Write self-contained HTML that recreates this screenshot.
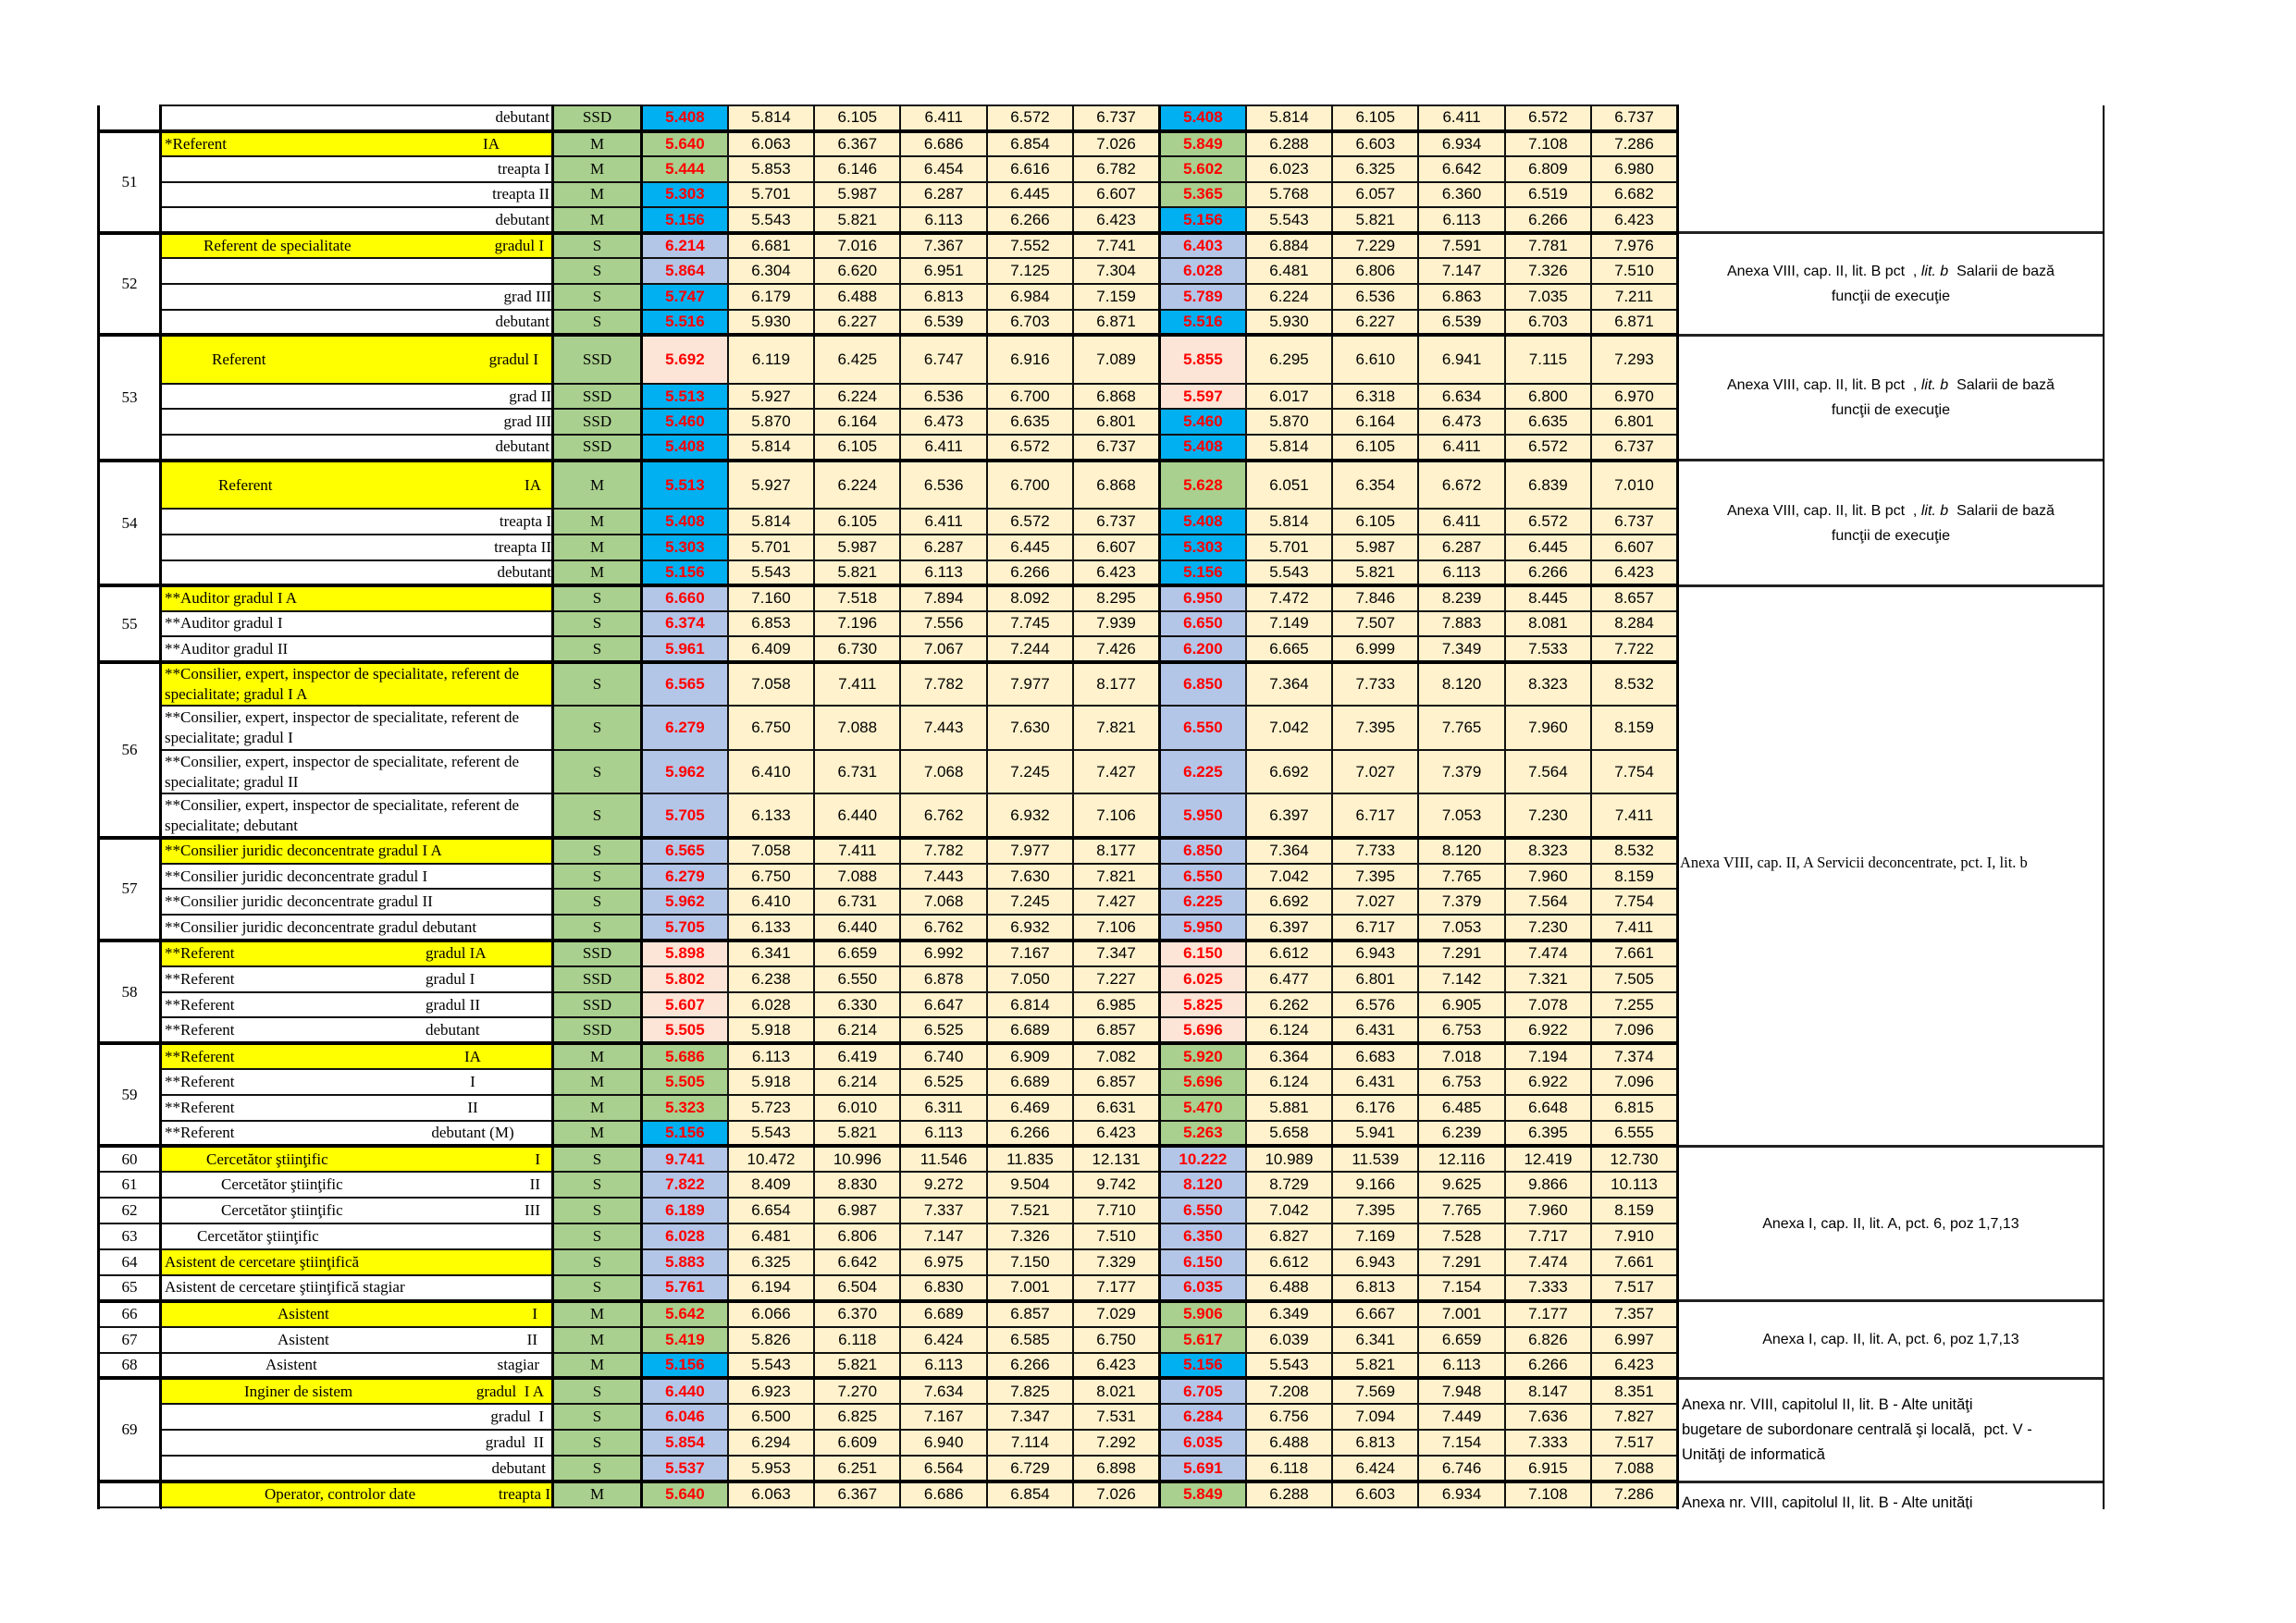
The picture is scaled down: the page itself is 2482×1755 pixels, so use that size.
<!DOCTYPE html>
<html><head><meta charset="utf-8"><style>
html,body{margin:0;padding:0;background:#fff;width:2482px;height:1755px;overflow:hidden}
#w{position:absolute;left:105px;top:113px;width:2170px;height:1519px;overflow:hidden}
table{border-collapse:collapse;table-layout:fixed;width:2170px}
td{border:2px solid #111;padding:0;font:17px "Liberation Sans",sans-serif;text-align:center;background:#fff2cc;overflow:hidden;white-space:nowrap;color:#000}
td.k{background:#fff;font-family:"Liberation Serif",serif;border-left:3px solid #000}
td.n{background:#fff;font-family:"Liberation Serif",serif;text-align:left;border-left:3px solid #000}
td.n.y{background:#ffff00}
td.g{background:#a9d08e;font-family:"Liberation Serif",serif;border-left:3px solid #000}
td.c,td.cy,td.lv,td.gr,td.pk{color:#f00;font-weight:bold}
td.cy{background:#00b0f0}td.lv{background:#b4c6e7}td.gr{background:#a9d08e}td.pk{background:#fce4d6}
td.b{border-left:3px solid #000}
td.a{background:#fff;border-left:3px solid #000;border-right:3px solid #000;border-top:2px solid #555;border-bottom:2px solid #555;white-space:nowrap;line-height:27px;font-size:16px}
tr.t>td{border-top:4px solid #000}
tr.t>td.a{border-top:3px solid #222}
tr{height:27.7px}
tr.t{height:27.2px}
tr.h{height:52.5px}
tr.m{height:47.5px}
tr.q{height:27.8px}
tr.r{height:27.9px}
.f{display:flex;justify-content:space-between;align-items:center;padding:0 6px 0 3px}
.w{white-space:normal;line-height:22px;padding-left:3px}
</style></head><body><div id="w"><table>
<colgroup><col style="width:67px"><col style="width:424px"><col style="width:96px"><col span="12" style="width:93.33px"><col style="width:461px"></colgroup>
<tr><td class="k" style="border-top:none"></td><td class="n"><div class="f" style="justify-content:flex-end;padding-right:2px"><span>debutant</span></div></td><td class="g">SSD</td><td class="cy b">5.408</td><td>5.814</td><td>6.105</td><td>6.411</td><td>6.572</td><td>6.737</td><td class="cy b">5.408</td><td>5.814</td><td>6.105</td><td>6.411</td><td>6.572</td><td>6.737</td><td class="a" rowspan="5" style="border-top:none"></td></tr>

<tr class="t"><td class="k" rowspan="4">51</td><td class="n y"><div class="f" style="padding-right:56px"><span>*Referent</span><span>IA</span></div></td><td class="g">M</td><td class="gr b">5.640</td><td>6.063</td><td>6.367</td><td>6.686</td><td>6.854</td><td>7.026</td><td class="gr b">5.849</td><td>6.288</td><td>6.603</td><td>6.934</td><td>7.108</td><td>7.286</td></tr>
<tr><td class="n"><div class="f" style="justify-content:flex-end;padding-right:2px"><span>treapta I</span></div></td><td class="g">M</td><td class="gr b">5.444</td><td>5.853</td><td>6.146</td><td>6.454</td><td>6.616</td><td>6.782</td><td class="gr b">5.602</td><td>6.023</td><td>6.325</td><td>6.642</td><td>6.809</td><td>6.980</td></tr>
<tr><td class="n"><div class="f" style="justify-content:flex-end;padding-right:2px"><span>treapta II</span></div></td><td class="g">M</td><td class="cy b">5.303</td><td>5.701</td><td>5.987</td><td>6.287</td><td>6.445</td><td>6.607</td><td class="gr b">5.365</td><td>5.768</td><td>6.057</td><td>6.360</td><td>6.519</td><td>6.682</td></tr>
<tr><td class="n"><div class="f" style="justify-content:flex-end;padding-right:2px"><span>debutant</span></div></td><td class="g">M</td><td class="cy b">5.156</td><td>5.543</td><td>5.821</td><td>6.113</td><td>6.266</td><td>6.423</td><td class="cy b">5.156</td><td>5.543</td><td>5.821</td><td>6.113</td><td>6.266</td><td>6.423</td></tr>

<tr class="t"><td class="k" rowspan="4">52</td><td class="n y"><div class="f" style="padding-left:45px;padding-right:8px"><span>Referent de specialitate</span><span>gradul I</span></div></td><td class="g">S</td><td class="lv b">6.214</td><td>6.681</td><td>7.016</td><td>7.367</td><td>7.552</td><td>7.741</td><td class="lv b">6.403</td><td>6.884</td><td>7.229</td><td>7.591</td><td>7.781</td><td>7.976</td><td class="a" rowspan="4">Anexa VIII, cap. II, lit. B pct&nbsp; , <i>lit. b</i>&nbsp; Salarii de bază<br>funcţii de execuţie</td></tr>
<tr><td class="n"></td><td class="g">S</td><td class="lv b">5.864</td><td>6.304</td><td>6.620</td><td>6.951</td><td>7.125</td><td>7.304</td><td class="lv b">6.028</td><td>6.481</td><td>6.806</td><td>7.147</td><td>7.326</td><td>7.510</td></tr>
<tr><td class="n"><div class="f" style="justify-content:flex-end;padding-right:0"><span>grad III</span></div></td><td class="g">S</td><td class="cy b">5.747</td><td>6.179</td><td>6.488</td><td>6.813</td><td>6.984</td><td>7.159</td><td class="lv b">5.789</td><td>6.224</td><td>6.536</td><td>6.863</td><td>7.035</td><td>7.211</td></tr>
<tr><td class="n"><div class="f" style="justify-content:flex-end;padding-right:2px"><span>debutant</span></div></td><td class="g">S</td><td class="cy b">5.516</td><td>5.930</td><td>6.227</td><td>6.539</td><td>6.703</td><td>6.871</td><td class="cy b">5.516</td><td>5.930</td><td>6.227</td><td>6.539</td><td>6.703</td><td>6.871</td></tr>

<tr class="t h"><td class="k" rowspan="4">53</td><td class="n y"><div class="f" style="padding-left:54px;padding-right:14px"><span>Referent</span><span>gradul I</span></div></td><td class="g">SSD</td><td class="pk b">5.692</td><td>6.119</td><td>6.425</td><td>6.747</td><td>6.916</td><td>7.089</td><td class="pk b">5.855</td><td>6.295</td><td>6.610</td><td>6.941</td><td>7.115</td><td>7.293</td><td class="a" rowspan="4">Anexa VIII, cap. II, lit. B pct&nbsp; , <i>lit. b</i>&nbsp; Salarii de bază<br>funcţii de execuţie</td></tr>
<tr><td class="n"><div class="f" style="justify-content:flex-end;padding-right:0"><span>grad II</span></div></td><td class="g">SSD</td><td class="cy b">5.513</td><td>5.927</td><td>6.224</td><td>6.536</td><td>6.700</td><td>6.868</td><td class="pk b">5.597</td><td>6.017</td><td>6.318</td><td>6.634</td><td>6.800</td><td>6.970</td></tr>
<tr><td class="n"><div class="f" style="justify-content:flex-end;padding-right:0"><span>grad III</span></div></td><td class="g">SSD</td><td class="cy b">5.460</td><td>5.870</td><td>6.164</td><td>6.473</td><td>6.635</td><td>6.801</td><td class="cy b">5.460</td><td>5.870</td><td>6.164</td><td>6.473</td><td>6.635</td><td>6.801</td></tr>
<tr><td class="n"><div class="f" style="justify-content:flex-end;padding-right:2px"><span>debutant</span></div></td><td class="g">SSD</td><td class="cy b">5.408</td><td>5.814</td><td>6.105</td><td>6.411</td><td>6.572</td><td>6.737</td><td class="cy b">5.408</td><td>5.814</td><td>6.105</td><td>6.411</td><td>6.572</td><td>6.737</td></tr>

<tr class="t h"><td class="k" rowspan="4">54</td><td class="n y"><div class="f" style="padding-left:61px;padding-right:11px"><span>Referent</span><span>IA</span></div></td><td class="g">M</td><td class="cy b">5.513</td><td>5.927</td><td>6.224</td><td>6.536</td><td>6.700</td><td>6.868</td><td class="gr b">5.628</td><td>6.051</td><td>6.354</td><td>6.672</td><td>6.839</td><td>7.010</td><td class="a" rowspan="4">Anexa VIII, cap. II, lit. B pct&nbsp; , <i>lit. b</i>&nbsp; Salarii de bază<br>funcţii de execuţie</td></tr>
<tr><td class="n"><div class="f" style="justify-content:flex-end;padding-right:0"><span>treapta I</span></div></td><td class="g">M</td><td class="cy b">5.408</td><td>5.814</td><td>6.105</td><td>6.411</td><td>6.572</td><td>6.737</td><td class="cy b">5.408</td><td>5.814</td><td>6.105</td><td>6.411</td><td>6.572</td><td>6.737</td></tr>
<tr><td class="n"><div class="f" style="justify-content:flex-end;padding-right:0"><span>treapta II</span></div></td><td class="g">M</td><td class="cy b">5.303</td><td>5.701</td><td>5.987</td><td>6.287</td><td>6.445</td><td>6.607</td><td class="cy b">5.303</td><td>5.701</td><td>5.987</td><td>6.287</td><td>6.445</td><td>6.607</td></tr>
<tr><td class="n"><div class="f" style="justify-content:flex-end;padding-right:0"><span>debutant</span></div></td><td class="g">M</td><td class="cy b">5.156</td><td>5.543</td><td>5.821</td><td>6.113</td><td>6.266</td><td>6.423</td><td class="cy b">5.156</td><td>5.543</td><td>5.821</td><td>6.113</td><td>6.266</td><td>6.423</td></tr>

<tr class="t"><td class="k" rowspan="3">55</td><td class="n y"><div class="f"><span>**Auditor gradul I A</span></div></td><td class="g">S</td><td class="lv b">6.660</td><td>7.160</td><td>7.518</td><td>7.894</td><td>8.092</td><td>8.295</td><td class="lv b">6.950</td><td>7.472</td><td>7.846</td><td>8.239</td><td>8.445</td><td>8.657</td><td class="a" rowspan="19" style="text-align:left;font-family:'Liberation Serif',serif;font-size:16.5px;padding-left:1px;padding-bottom:8px">Anexa VIII, cap. II, A Servicii deconcentrate, pct. I, lit. b</td></tr>
<tr><td class="n"><div class="f"><span>**Auditor gradul I</span></div></td><td class="g">S</td><td class="lv b">6.374</td><td>6.853</td><td>7.196</td><td>7.556</td><td>7.745</td><td>7.939</td><td class="lv b">6.650</td><td>7.149</td><td>7.507</td><td>7.883</td><td>8.081</td><td>8.284</td></tr>
<tr><td class="n"><div class="f"><span>**Auditor gradul II</span></div></td><td class="g">S</td><td class="lv b">5.961</td><td>6.409</td><td>6.730</td><td>7.067</td><td>7.244</td><td>7.426</td><td class="lv b">6.200</td><td>6.665</td><td>6.999</td><td>7.349</td><td>7.533</td><td>7.722</td></tr>

<tr class="t m"><td class="k" rowspan="4">56</td><td class="n y"><div class="w">**Consilier, expert, inspector de specialitate, referent de specialitate; gradul I A</div></td><td class="g">S</td><td class="lv b">6.565</td><td>7.058</td><td>7.411</td><td>7.782</td><td>7.977</td><td>8.177</td><td class="lv b">6.850</td><td>7.364</td><td>7.733</td><td>8.120</td><td>8.323</td><td>8.532</td></tr>
<tr class="m"><td class="n"><div class="w">**Consilier, expert, inspector de specialitate, referent de specialitate; gradul I</div></td><td class="g">S</td><td class="lv b">6.279</td><td>6.750</td><td>7.088</td><td>7.443</td><td>7.630</td><td>7.821</td><td class="lv b">6.550</td><td>7.042</td><td>7.395</td><td>7.765</td><td>7.960</td><td>8.159</td></tr>
<tr class="m"><td class="n"><div class="w">**Consilier, expert, inspector de specialitate, referent de specialitate; gradul II</div></td><td class="g">S</td><td class="lv b">5.962</td><td>6.410</td><td>6.731</td><td>7.068</td><td>7.245</td><td>7.427</td><td class="lv b">6.225</td><td>6.692</td><td>7.027</td><td>7.379</td><td>7.564</td><td>7.754</td></tr>
<tr class="m"><td class="n"><div class="w">**Consilier, expert, inspector de specialitate, referent de specialitate; debutant</div></td><td class="g">S</td><td class="lv b">5.705</td><td>6.133</td><td>6.440</td><td>6.762</td><td>6.932</td><td>7.106</td><td class="lv b">5.950</td><td>6.397</td><td>6.717</td><td>7.053</td><td>7.230</td><td>7.411</td></tr>

<tr class="t q"><td class="k" rowspan="4">57</td><td class="n y"><div class="f"><span>**Consilier juridic deconcentrate gradul I A</span></div></td><td class="g">S</td><td class="lv b">6.565</td><td>7.058</td><td>7.411</td><td>7.782</td><td>7.977</td><td>8.177</td><td class="lv b">6.850</td><td>7.364</td><td>7.733</td><td>8.120</td><td>8.323</td><td>8.532</td></tr>
<tr class="q"><td class="n"><div class="f"><span>**Consilier juridic deconcentrate gradul I</span></div></td><td class="g">S</td><td class="lv b">6.279</td><td>6.750</td><td>7.088</td><td>7.443</td><td>7.630</td><td>7.821</td><td class="lv b">6.550</td><td>7.042</td><td>7.395</td><td>7.765</td><td>7.960</td><td>8.159</td></tr>
<tr class="q"><td class="n"><div class="f"><span>**Consilier juridic deconcentrate gradul II</span></div></td><td class="g">S</td><td class="lv b">5.962</td><td>6.410</td><td>6.731</td><td>7.068</td><td>7.245</td><td>7.427</td><td class="lv b">6.225</td><td>6.692</td><td>7.027</td><td>7.379</td><td>7.564</td><td>7.754</td></tr>
<tr class="q"><td class="n"><div class="f"><span>**Consilier juridic deconcentrate gradul debutant</span></div></td><td class="g">S</td><td class="lv b">5.705</td><td>6.133</td><td>6.440</td><td>6.762</td><td>6.932</td><td>7.106</td><td class="lv b">5.950</td><td>6.397</td><td>6.717</td><td>7.053</td><td>7.230</td><td>7.411</td></tr>

<tr class="t q"><td class="k" rowspan="4">58</td><td class="n y"><div class="f" style="padding-right:0"><span>**Referent</span><span style="width:136px">gradul IA</span></div></td><td class="g">SSD</td><td class="pk b">5.898</td><td>6.341</td><td>6.659</td><td>6.992</td><td>7.167</td><td>7.347</td><td class="pk b">6.150</td><td>6.612</td><td>6.943</td><td>7.291</td><td>7.474</td><td>7.661</td></tr>
<tr class="q"><td class="n"><div class="f" style="padding-right:0"><span>**Referent</span><span style="width:136px">gradul I</span></div></td><td class="g">SSD</td><td class="pk b">5.802</td><td>6.238</td><td>6.550</td><td>6.878</td><td>7.050</td><td>7.227</td><td class="pk b">6.025</td><td>6.477</td><td>6.801</td><td>7.142</td><td>7.321</td><td>7.505</td></tr>
<tr class="q"><td class="n"><div class="f" style="padding-right:0"><span>**Referent</span><span style="width:136px">gradul II</span></div></td><td class="g">SSD</td><td class="pk b">5.607</td><td>6.028</td><td>6.330</td><td>6.647</td><td>6.814</td><td>6.985</td><td class="pk b">5.825</td><td>6.262</td><td>6.576</td><td>6.905</td><td>7.078</td><td>7.255</td></tr>
<tr class="q"><td class="n"><div class="f" style="padding-right:0"><span>**Referent</span><span style="width:136px">debutant</span></div></td><td class="g">SSD</td><td class="pk b">5.505</td><td>5.918</td><td>6.214</td><td>6.525</td><td>6.689</td><td>6.857</td><td class="pk b">5.696</td><td>6.124</td><td>6.431</td><td>6.753</td><td>6.922</td><td>7.096</td></tr>

<tr class="t q"><td class="k" rowspan="4">59</td><td class="n y"><div class="f" style="padding-right:0"><span>**Referent</span><span style="width:170px;text-align:center">IA</span></div></td><td class="g">M</td><td class="gr b">5.686</td><td>6.113</td><td>6.419</td><td>6.740</td><td>6.909</td><td>7.082</td><td class="gr b">5.920</td><td>6.364</td><td>6.683</td><td>7.018</td><td>7.194</td><td>7.374</td></tr>
<tr class="q"><td class="n"><div class="f" style="padding-right:0"><span>**Referent</span><span style="width:170px;text-align:center">I</span></div></td><td class="g">M</td><td class="gr b">5.505</td><td>5.918</td><td>6.214</td><td>6.525</td><td>6.689</td><td>6.857</td><td class="gr b">5.696</td><td>6.124</td><td>6.431</td><td>6.753</td><td>6.922</td><td>7.096</td></tr>
<tr class="q"><td class="n"><div class="f" style="padding-right:0"><span>**Referent</span><span style="width:170px;text-align:center">II</span></div></td><td class="g">M</td><td class="gr b">5.323</td><td>5.723</td><td>6.010</td><td>6.311</td><td>6.469</td><td>6.631</td><td class="gr b">5.470</td><td>5.881</td><td>6.176</td><td>6.485</td><td>6.648</td><td>6.815</td></tr>
<tr class="q"><td class="n"><div class="f" style="padding-right:0"><span>**Referent</span><span style="width:170px;text-align:center">debutant (M)</span></div></td><td class="g">M</td><td class="cy b">5.156</td><td>5.543</td><td>5.821</td><td>6.113</td><td>6.266</td><td>6.423</td><td class="gr b">5.263</td><td>5.658</td><td>5.941</td><td>6.239</td><td>6.395</td><td>6.555</td></tr>

<tr class="t r"><td class="k">60</td><td class="n y"><div class="f" style="padding-left:48px;padding-right:12px"><span>Cercetător ştiinţific</span><span>I</span></div></td><td class="g">S</td><td class="lv b">9.741</td><td>10.472</td><td>10.996</td><td>11.546</td><td>11.835</td><td>12.131</td><td class="lv b">10.222</td><td>10.989</td><td>11.539</td><td>12.116</td><td>12.419</td><td>12.730</td><td class="a" rowspan="6">Anexa I, cap. II, lit. A, pct. 6, poz 1,7,13</td></tr>
<tr class="r"><td class="k">61</td><td class="n"><div class="f" style="padding-left:64px;padding-right:12px"><span>Cercetător ştiinţific</span><span>II</span></div></td><td class="g">S</td><td class="lv b">7.822</td><td>8.409</td><td>8.830</td><td>9.272</td><td>9.504</td><td>9.742</td><td class="lv b">8.120</td><td>8.729</td><td>9.166</td><td>9.625</td><td>9.866</td><td>10.113</td></tr>
<tr class="r"><td class="k">62</td><td class="n"><div class="f" style="padding-left:64px;padding-right:12px"><span>Cercetător ştiinţific</span><span>III</span></div></td><td class="g">S</td><td class="lv b">6.189</td><td>6.654</td><td>6.987</td><td>7.337</td><td>7.521</td><td>7.710</td><td class="lv b">6.550</td><td>7.042</td><td>7.395</td><td>7.765</td><td>7.960</td><td>8.159</td></tr>
<tr class="r"><td class="k">63</td><td class="n"><div class="f" style="padding-left:38px"><span>Cercetător ştiinţific</span></div></td><td class="g">S</td><td class="lv b">6.028</td><td>6.481</td><td>6.806</td><td>7.147</td><td>7.326</td><td>7.510</td><td class="lv b">6.350</td><td>6.827</td><td>7.169</td><td>7.528</td><td>7.717</td><td>7.910</td></tr>
<tr class="r"><td class="k">64</td><td class="n y"><div class="f"><span>Asistent de cercetare ştiinţifică</span></div></td><td class="g">S</td><td class="lv b">5.883</td><td>6.325</td><td>6.642</td><td>6.975</td><td>7.150</td><td>7.329</td><td class="lv b">6.150</td><td>6.612</td><td>6.943</td><td>7.291</td><td>7.474</td><td>7.661</td></tr>
<tr class="r"><td class="k">65</td><td class="n"><div class="f"><span>Asistent de cercetare ştiinţifică stagiar</span></div></td><td class="g">S</td><td class="lv b">5.761</td><td>6.194</td><td>6.504</td><td>6.830</td><td>7.001</td><td>7.177</td><td class="lv b">6.035</td><td>6.488</td><td>6.813</td><td>7.154</td><td>7.333</td><td>7.517</td></tr>

<tr class="t r"><td class="k">66</td><td class="n y"><div class="f" style="padding-left:125px;padding-right:15px"><span>Asistent</span><span>I</span></div></td><td class="g">M</td><td class="gr b">5.642</td><td>6.066</td><td>6.370</td><td>6.689</td><td>6.857</td><td>7.029</td><td class="gr b">5.906</td><td>6.349</td><td>6.667</td><td>7.001</td><td>7.177</td><td>7.357</td><td class="a" rowspan="3">Anexa I, cap. II, lit. A, pct. 6, poz 1,7,13</td></tr>
<tr class="r"><td class="k">67</td><td class="n"><div class="f" style="padding-left:125px;padding-right:15px"><span>Asistent</span><span>II</span></div></td><td class="g">M</td><td class="gr b">5.419</td><td>5.826</td><td>6.118</td><td>6.424</td><td>6.585</td><td>6.750</td><td class="gr b">5.617</td><td>6.039</td><td>6.341</td><td>6.659</td><td>6.826</td><td>6.997</td></tr>
<tr class="r"><td class="k">68</td><td class="n"><div class="f" style="padding-left:112px;padding-right:13px"><span>Asistent</span><span>stagiar</span></div></td><td class="g">M</td><td class="cy b">5.156</td><td>5.543</td><td>5.821</td><td>6.113</td><td>6.266</td><td>6.423</td><td class="cy b">5.156</td><td>5.543</td><td>5.821</td><td>6.113</td><td>6.266</td><td>6.423</td></tr>

<tr class="t r"><td class="k" rowspan="4">69</td><td class="n y"><div class="f" style="padding-left:89px;padding-right:8px"><span>Inginer de sistem</span><span>gradul&nbsp; I A</span></div></td><td class="g">S</td><td class="lv b">6.440</td><td>6.923</td><td>7.270</td><td>7.634</td><td>7.825</td><td>8.021</td><td class="lv b">6.705</td><td>7.208</td><td>7.569</td><td>7.948</td><td>8.147</td><td>8.351</td><td class="a" rowspan="4" style="text-align:left;padding-left:3px;font-size:16.5px">Anexa nr. VIII, capitolul II, lit. B - Alte unităţi<br>bugetare de subordonare centrală şi locală,&nbsp; pct. V -<br>Unităţi de informatică</td></tr>
<tr class="r"><td class="n"><div class="f" style="justify-content:flex-end;padding-right:8px"><span>gradul&nbsp; I</span></div></td><td class="g">S</td><td class="lv b">6.046</td><td>6.500</td><td>6.825</td><td>7.167</td><td>7.347</td><td>7.531</td><td class="lv b">6.284</td><td>6.756</td><td>7.094</td><td>7.449</td><td>7.636</td><td>7.827</td></tr>
<tr class="r"><td class="n"><div class="f" style="justify-content:flex-end;padding-right:8px"><span>gradul&nbsp; II</span></div></td><td class="g">S</td><td class="lv b">5.854</td><td>6.294</td><td>6.609</td><td>6.940</td><td>7.114</td><td>7.292</td><td class="lv b">6.035</td><td>6.488</td><td>6.813</td><td>7.154</td><td>7.333</td><td>7.517</td></tr>
<tr class="r"><td class="n"><div class="f" style="justify-content:flex-end;padding-right:6px"><span>debutant</span></div></td><td class="g">S</td><td class="lv b">5.537</td><td>5.953</td><td>6.251</td><td>6.564</td><td>6.729</td><td>6.898</td><td class="lv b">5.691</td><td>6.118</td><td>6.424</td><td>6.746</td><td>6.915</td><td>7.088</td></tr>

<tr class="t r"><td class="k"></td><td class="n y"><div class="f" style="padding-left:111px;padding-right:1px"><span>Operator, controlor date</span><span>treapta I</span></div></td><td class="g">M</td><td class="gr b">5.640</td><td>6.063</td><td>6.367</td><td>6.686</td><td>6.854</td><td>7.026</td><td class="gr b">5.849</td><td>6.288</td><td>6.603</td><td>6.934</td><td>7.108</td><td>7.286</td><td class="a" rowspan="2" style="text-align:left;padding-left:3px;vertical-align:top;font-size:16.5px"><div style="padding-top:8px">Anexa nr. VIII, capitolul II, lit. B - Alte unităţi</div></td></tr>
<tr style="height:80px"><td class="k" style="border-top:none"></td><td colspan="14" style="background:#fff;border:none"></td></tr>
</table></div></body></html>
